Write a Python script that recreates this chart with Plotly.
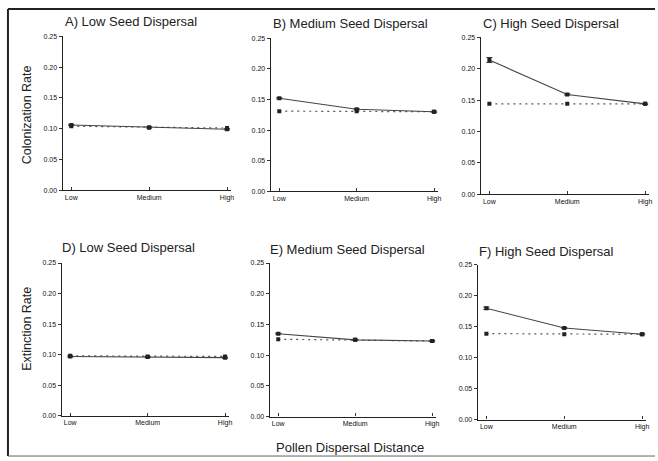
import plotly.graph_objects as go

categories = ["Low", "Medium", "High"]
panel_titles = ["A) Low Seed Dispersal", "B) Medium Seed Dispersal", "C) High Seed Dispersal",
                "D) Low Seed Dispersal", "E) Medium Seed Dispersal", "F) High Seed Dispersal"]
solid_values = [
    [0.106, 0.102, 0.099],
    [0.152, 0.134, 0.130],
    [0.214, 0.159, 0.144],
    [0.097, 0.096, 0.095],
    [0.135, 0.125, 0.123],
    [0.180, 0.148, 0.138],
]
solid_err = [
    [0.001, 0.001, 0.001],
    [0.001, 0.001, 0.001],
    [0.004, 0.001, 0.001],
    [0.001, 0.001, 0.001],
    [0.001, 0.001, 0.001],
    [0.002, 0.001, 0.001],
]
dotted_values = [
    [0.104, 0.102, 0.101],
    [0.131, 0.131, 0.130],
    [0.144, 0.144, 0.144],
    [0.098, 0.097, 0.097],
    [0.126, 0.125, 0.123],
    [0.139, 0.138, 0.138],
]
y_ticks = [0.0, 0.05, 0.10, 0.15, 0.20, 0.25]
y_ticktext = ["0.00", "0.05", "0.10", "0.15", "0.20", "0.25"]

W, H = 658, 461
# pixel boxes: (x_left, x_right, y_bottom(0.00), y_top(0.25))
boxes = [
    (63, 232, 189, 33),
    (272, 440, 190, 35),
    (483, 652, 193, 34),
    (62, 230, 418, 263),
    (271, 438, 419, 263),
    (480, 649, 422, 265),
]
title_pos = [(63, 18), (272, 20), (483, 20), (60, 247), (269, 249), (479, 251)]

fig = go.Figure()
layout = dict(
    width=W, height=H, margin=dict(l=0, r=0, t=0, b=0),
    paper_bgcolor="white", plot_bgcolor="white", showlegend=False,
    font=dict(family="Liberation Sans, Arial, sans-serif", color="#222"),
)
annotations = []
for i in range(6):
    xl, xr, yb, yt = boxes[i]
    xa = "xaxis" if i == 0 else f"xaxis{i+1}"
    ya = "yaxis" if i == 0 else f"yaxis{i+1}"
    xr_ = "x" if i == 0 else f"x{i+1}"
    yr_ = "y" if i == 0 else f"y{i+1}"
    layout[xa] = dict(
        domain=[xl / W, xr / W], anchor=yr_, type="category",
        range=[-0.11, 2.05], showgrid=False, zeroline=False,
        showline=True, linecolor="#222", linewidth=1.3,
        ticks="inside", ticklen=3, tickcolor="#333",
        tickfont=dict(size=7, color="#111"), fixedrange=True,
    )
    layout[ya] = dict(
        domain=[1 - yb / H, 1 - yt / H], anchor=xr_,
        range=[0, 0.25], showgrid=False, zeroline=False,
        showline=True, linecolor="#222", linewidth=1.3,
        tickvals=y_ticks, ticktext=y_ticktext,
        ticks="outside", ticklen=3, tickcolor="#333",
        tickfont=dict(size=7, color="#111"), fixedrange=True,
    )
    fig.add_trace(go.Scatter(
        x=categories, y=dotted_values[i], xaxis=xr_, yaxis=yr_,
        mode="lines+markers",
        line=dict(color="#555", width=1.2, dash="2px,4px"),
        marker=dict(symbol="square", size=4, color="#222"),
    ))
    fig.add_trace(go.Scatter(
        x=categories, y=solid_values[i], xaxis=xr_, yaxis=yr_,
        mode="lines+markers",
        line=dict(color="#444", width=1.1),
        marker=dict(symbol="square", size=4, color="#222"),
        error_y=dict(type="data", array=solid_err[i], color="#333", thickness=1, width=3),
    ))
    tx, ty = title_pos[i]
    annotations.append(dict(
        text=panel_titles[i], x=tx / W, y=1 - ty / H, xref="paper", yref="paper",
        xanchor="left", yanchor="middle", showarrow=False,
        font=dict(size=13, color="#222"),
    ))

annotations.append(dict(text="Colonization Rate", x=27 / W, y=1 - 112 / H, xref="paper", yref="paper",
                        textangle=-90, showarrow=False, font=dict(size=12.5, color="#222"),
                        xanchor="center", yanchor="middle"))
annotations.append(dict(text="Extinction Rate", x=27 / W, y=1 - 330 / H, xref="paper", yref="paper",
                        textangle=-90, showarrow=False, font=dict(size=12.5, color="#222"),
                        xanchor="center", yanchor="middle"))
annotations.append(dict(text="Pollen Dispersal Distance", x=352 / W, y=1 - 450 / H, xref="paper", yref="paper",
                        showarrow=False, font=dict(size=13, color="#222"),
                        xanchor="center", yanchor="middle"))
layout["annotations"] = annotations
layout["shapes"] = [
    dict(type="line", xref="paper", yref="paper", x0=8 / W, x1=1, y0=1 - 5 / H, y1=1 - 5 / H,
         line=dict(color="#222", width=2)),
    dict(type="line", xref="paper", yref="paper", x0=8 / W, x1=8 / W, y0=1 - 5 / H, y1=1 - 459 / H,
         line=dict(color="#222", width=2)),
    dict(type="line", xref="paper", yref="paper", x0=8 / W, x1=1, y0=1 - 459 / H, y1=1 - 459 / H,
         line=dict(color="#666", width=1)),
]
fig.update_layout(**layout)
fig.write_html("out.html", config={"displayModeBar": False},
               post_script="document.body.style.margin='0';document.body.style.overflow='hidden';")
